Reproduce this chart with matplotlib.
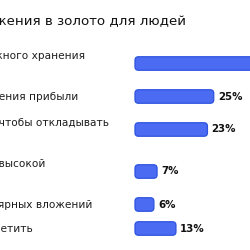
import matplotlib.pyplot as plt
from matplotlib.patches import FancyBboxPatch

title = 'Причины вложения в золото для людей'
labels = [
    'Средство надёжного хранения\nсбережений',
    'Средство получения прибыли',
    'Лёгкий способ, чтобы откладывать\nденьги',
    'Инструменты с высокой\nдоходностью',
    'Средство регулярных вложений',
    'Не знаю что ответить',
]
values = [45, 25, 23, 7, 6, 13]
value_labels = ['45%', '25%', '23%', '7%', '6%', '13%']

plt.rcParams['font.family'] = ['DejaVu Sans']

fig = plt.figure(figsize=(2.5, 2.5), dpi=100)
ax = fig.add_axes([0, 0, 1, 1])

# y in pixels from the top, x in percent (bars start at 135 px, ~3.15 px per %)
px_per_pct = 3.15
ax.set_xlim(-135 / px_per_pct, 115 / px_per_pct)
ax.set_ylim(250, 0)
ax.axis('off')

# row centres from the number of label lines
centres = []
y = 63.5
prev = None
for lab in labels:
    n = lab.count('\n') + 1
    if prev is not None:
        y += 9 * (prev + n) + 6
    centres.append(y)
    prev = n

bars = ax.barh(centres, values, height=13.5, color='none')
for b in bars:
    x0, y0, w, h = b.get_x(), b.get_y(), b.get_width(), b.get_height()
    patch = FancyBboxPatch((x0, y0), w, h,
                           boxstyle='round,pad=0,rounding_size=1.1',
                           mutation_aspect=px_per_pct,
                           facecolor='#4b6cf2', edgecolor='#2d52e0', linewidth=0.9)
    ax.add_patch(patch)
    b.remove()

for yc, lab, v, vl in zip(centres, labels, values, value_labels):
    ax.text(-0.36, yc, lab, transform=ax.get_yaxis_transform(), ha='left', va='center',
            fontsize=7.6, color='#1e1e1e', linespacing=1.55, clip_on=False)
    ax.annotate(vl, (v, yc), xytext=(3, 0), textcoords='offset points',
                ha='left', va='center', fontsize=7.4, fontweight='bold', color='#111111')

ax.text(-0.392, 22, title, transform=ax.get_yaxis_transform(), ha='left', va='center',
        fontsize=9.6, color='#111111', clip_on=False)

fig.savefig('out.png', dpi=100, facecolor='white')
